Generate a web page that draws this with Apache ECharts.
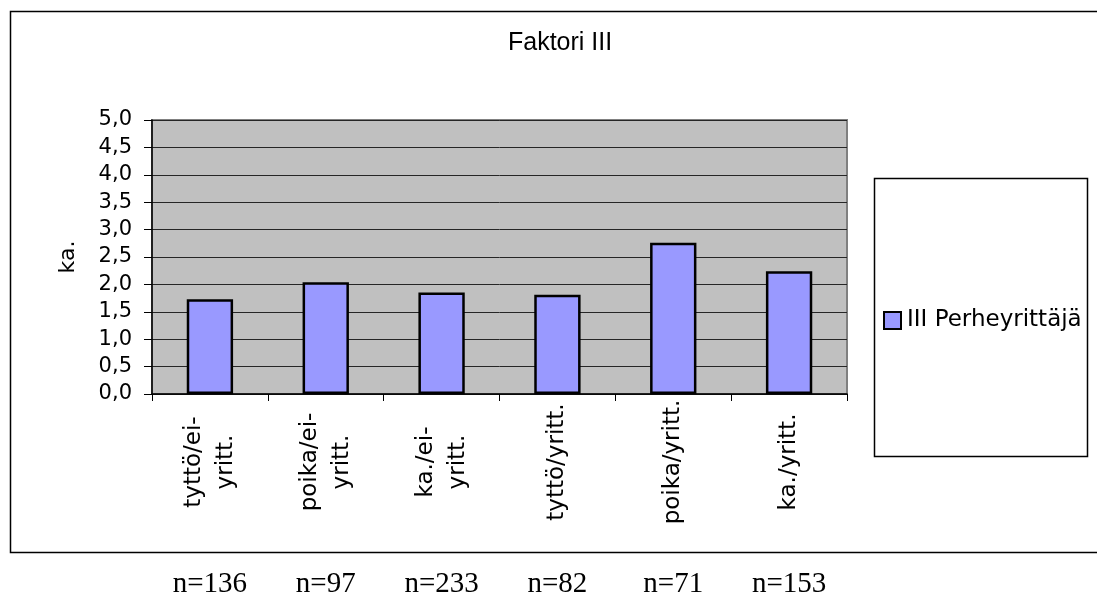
<!DOCTYPE html>
<html>
<head>
<meta charset="utf-8">
<script src="https://cdn.jsdelivr.net/npm/echarts@6/dist/echarts.min.js"></script>
<style>
html,body{margin:0;padding:0;background:#fff;}
#chart{width:1097px;height:595px;}
</style>
</head>
<body>
<div id="chart"></div>
<script>
const titleText = 'Faktori III';
const categories = ['tyttö/ei-\nyritt.', 'poika/ei-\nyritt.', 'ka./ei-\nyritt.', 'tyttö/yritt.', 'poika/yritt.', 'ka./yritt.'];
const seriesName = 'III Perheyrittäjä';
const values = [1.73, 2.04, 1.85, 1.81, 2.76, 2.24];
const nLabels = ['n=136', 'n=97', 'n=233', 'n=82', 'n=71', 'n=153'];
const yAxisName = 'ka.';

const chart = echarts.init(document.getElementById('chart'), null, {renderer: 'canvas'});
const sans = 'DejaVu Sans';
chart.setOption({
  animation: false,
  backgroundColor: '#ffffff',
  title: {
    text: titleText,
    left: 508, top: 31, padding: 0,
    textStyle: {fontFamily: 'Liberation Sans', fontSize: 25, fontWeight: 'normal', color: '#000'}
  },
  graphic: [
    {type: 'rect', shape: {x: 10.5, y: 11.5, width: 1100, height: 541}, style: {fill: 'none', stroke: '#000', lineWidth: 1.5}, silent: true, z: 0},
    {type: 'rect', shape: {x: 874.5, y: 178.5, width: 213, height: 278}, style: {fill: '#fff', stroke: '#000', lineWidth: 1.5}, silent: true, z: 0}
  ],
  legend: {
    data: [seriesName],
    left: 883, top: 309, padding: 0,
    icon: 'rect', itemWidth: 17, itemHeight: 17, itemGap: 10,
    itemStyle: {color: '#9999FF', borderColor: '#000', borderWidth: 2},
    textStyle: {fontFamily: sans, fontSize: 23, color: '#000', padding: [0, 0, 0, 1]}
  },
  grid: {
    left: 152, right: 250, top: 120, bottom: 201,
    containLabel: false, outerBoundsMode: 'none',
    show: true, backgroundColor: '#C0C0C0', borderColor: '#808080', borderWidth: 2
  },
  xAxis: [
    {
      type: 'category', data: categories, position: 'bottom',
      axisLine: {lineStyle: {color: '#000', width: 1.5}},
      axisTick: {show: true, length: 7, lineStyle: {color: '#000', width: 1}},
      axisLabel: {
        rotate: 90, align: 'center', verticalAlign: 'middle', margin: 68, interval: 0,
        fontFamily: sans, fontSize: 23, lineHeight: 32, color: '#000'
      },
      splitLine: {show: false}
    },
    {
      type: 'category', data: nLabels, position: 'bottom', offset: 190,
      axisLine: {show: false}, axisTick: {show: false}, splitLine: {show: false},
      axisLabel: {
        margin: 0, verticalAlign: 'middle', interval: 0,
        fontFamily: 'Liberation Serif', fontSize: 29, color: '#000'
      }
    }
  ],
  yAxis: {
    type: 'value', min: 0, max: 5, interval: 0.5,
    name: yAxisName, nameLocation: 'middle', nameGap: 73, nameRotate: 90,
    nameTextStyle: {fontFamily: sans, fontSize: 22, color: '#000'},
    axisLine: {show: true, lineStyle: {color: '#000', width: 1.5}},
    axisTick: {show: true, length: 8, lineStyle: {color: '#000', width: 1}},
    axisLabel: {
      margin: 20, fontFamily: sans, fontSize: 21, color: '#000',
      formatter: function (v) { return v.toFixed(1).replace('.', ','); }
    },
    splitLine: {show: true, lineStyle: {color: '#262626', width: 1}}
  },
  series: [{
    name: seriesName, type: 'bar', xAxisIndex: 0, data: values, barWidth: '40%',
    itemStyle: {color: '#9999FF', borderColor: '#000', borderWidth: 2.5}
  }]
});
</script>
</body>
</html>
